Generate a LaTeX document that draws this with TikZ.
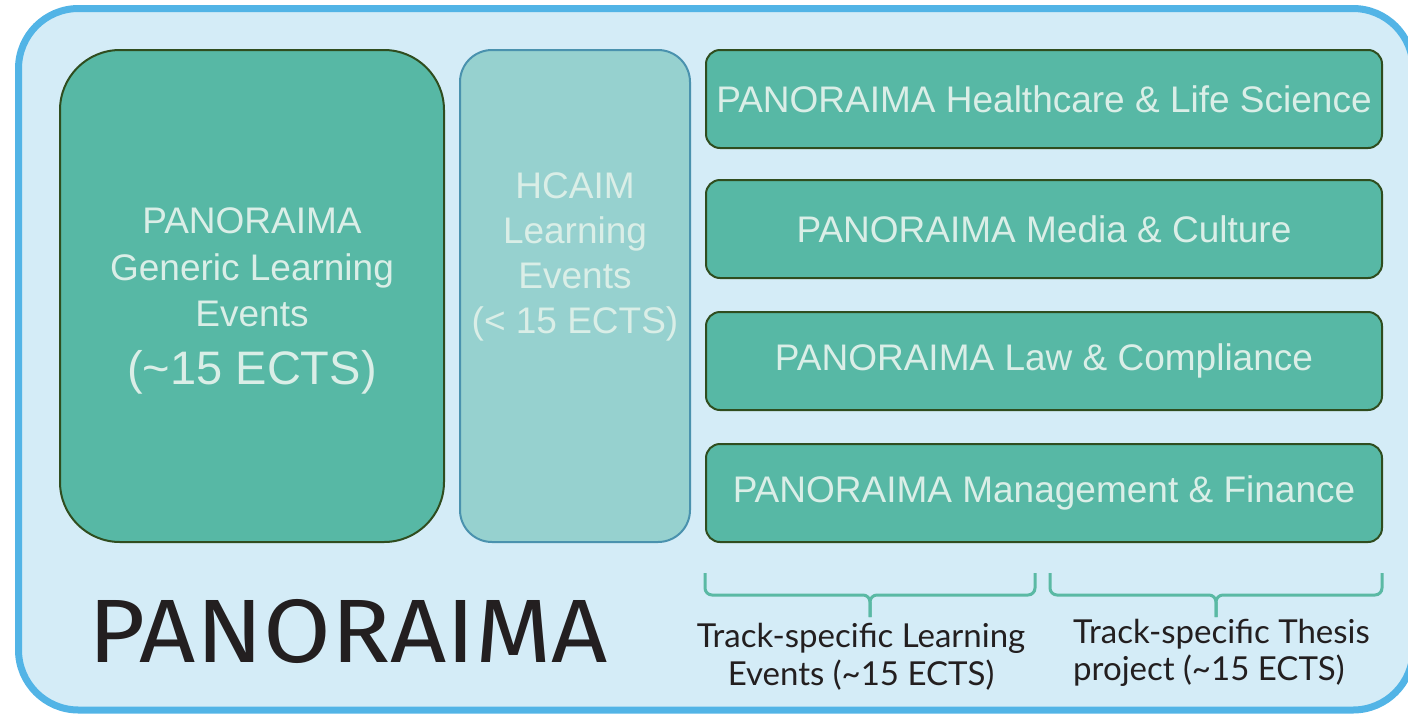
\documentclass[tikz,border=0pt]{standalone}
\usepackage{fontspec}
\setmainfont{Liberation Sans}
\newfontfamily\latofont{Lato}
\newfontfamily\firafont{Fira Sans}
\definecolor{outerfill}{HTML}{D4ECF7}
\definecolor{outerline}{HTML}{52B4E6}
\definecolor{greenfill}{HTML}{57B8A5}
\definecolor{greenline}{HTML}{2F4D1F}
\definecolor{hcfill}{HTML}{96D1CF}
\definecolor{hcline}{HTML}{4A92AE}
\definecolor{boxtext}{HTML}{DAEEE7}
\definecolor{bracecol}{HTML}{5AB9A4}
\definecolor{darktext}{HTML}{231F20}
\tikzset{
  greenbox/.style={draw=greenline, fill=greenfill, line width=2pt, inner sep=0pt},
  trackbox/.style={greenbox, rounded corners=14pt, minimum width=676pt, minimum height=98pt,
    text=boxtext, font=\fontsize{37}{44}\selectfont},
  hcbox/.style={draw=hcline, fill=hcfill, line width=2pt, inner sep=0pt, rounded corners=32pt},
  bracepath/.style={draw=bracecol, line width=3pt, rounded corners=7pt},
  bottomlabel/.style={text=darktext, font=\latofont\fontsize{33}{37.5}\selectfont, inner sep=0pt}
}
\begin{document}
\begin{tikzpicture}[x=1pt,y=-1pt]
\useasboundingbox (0,0) rectangle (1408,713);
\begin{scope}
\clip (0,0) rectangle (1408,713);
\draw[draw=outerline, fill=outerfill, line width=7pt, rounded corners=60pt] (18.5,8.5) rectangle (1413,710);
\end{scope}
% generic box
\node[greenbox, rounded corners=60pt, minimum width=384pt, minimum height=492pt] (generic) at (252,296) {};
\node[text=boxtext, align=center, inner sep=0pt, font=\fontsize{37}{46.5}\selectfont] (generictext) at (252,301)
  {PANORAIMA\\ Generic Learning\\ Events\\[11pt] \fontsize{47}{54}\selectfont (\textasciitilde 15 ECTS)};
% hcaim box
\node[hcbox, minimum width=230pt, minimum height=492pt] (hcaim) at (575,296) {};
\node[text=boxtext, align=center, inner sep=0pt, font=\fontsize{37}{45}\selectfont] (hcaimtext) at (575,256.5)
  {HCAIM\\ Learning\\ Events\\ (< 15 ECTS)};
% track boxes
\node[trackbox] (health) at (1044,99) {PANORAIMA Healthcare \& Life Science};
\node[trackbox] (media) at (1044,229) {PANORAIMA Media \& Culture};
\node[trackbox] (law) at (1044,361) {PANORAIMA Law \& Compliance};
\node[trackbox] (mgmt) at (1044,493) {PANORAIMA Management \& Finance};
% big title
\node[anchor=base west, inner sep=0pt, text=darktext, font=\firafont\fontsize{90}{100}\selectfont] (title) at (88.5,662) {\scalebox{1.09}[1]{PANORAIMA}};
% braces
\coordinate (b1l) at (705,573);
\coordinate (b1r) at (1035,573);
\coordinate (b1m) at (870,595);
\coordinate (b1t) at (870,617);
\coordinate (b2l) at (1050,573);
\coordinate (b2r) at (1382,573);
\coordinate (b2m) at (1216,595);
\coordinate (b2t) at (1216,617);
\draw[bracepath] (b1l) |- (b1m) -- (b1t);
\draw[bracepath] (b1r) |- (b1m) -- (b1t);
\draw[bracepath] (b2l) |- (b2m) -- (b2t);
\draw[bracepath] (b2r) |- (b2m) -- (b2t);
% bottom labels
\node[bottomlabel, align=center] (lab1) at (861,657) {Track-specific Learning\\Events (\textasciitilde 15 ECTS)};
\node[bottomlabel, align=left, anchor=west] (lab2) at (1073,653) {Track-specific Thesis\\project (\textasciitilde 15 ECTS)};
\end{tikzpicture}
\end{document}
